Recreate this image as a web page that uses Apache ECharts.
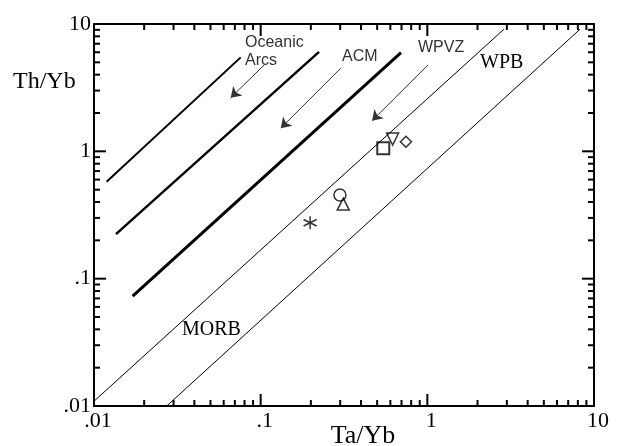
<!DOCTYPE html>
<html>
<head>
<meta charset="utf-8">
<script src="https://cdn.jsdelivr.net/npm/echarts@6/dist/echarts.min.js"></script>
<style>
  html, body { margin: 0; padding: 0; background: #fff; }
  #chart { width: 624px; height: 446px; }
</style>
</head>
<body>
<div id="chart"></div>
<script>
// Th/Yb vs Ta/Yb discrimination diagram (log-log)

const AX_MIN = 0.01;
const AX_MAX = 10;
const tickLabels = ['.01', '.1', '1', '10'];
const majorTickValues = [0.01, 0.1, 1, 10];
const minorTickValues = [
  0.02, 0.03, 0.04, 0.05, 0.06, 0.07, 0.08, 0.09,
  0.2, 0.3, 0.4, 0.5, 0.6, 0.7, 0.8, 0.9,
  2, 3, 4, 5, 6, 7, 8, 9
];

// Field boundary lines [Ta/Yb, Th/Yb]
const oceanicArcsLine = [[0.0119, 0.577], [0.0759, 5.47]];
const acmLine = [[0.01355, 0.224], [0.224, 6.03]];
const wpvzLine = [[0.01706, 0.073], [0.695, 5.96]];
const mantleArrayUpper = [[0.01, 0.0109], [2.88, 9.09]];
const mantleArrayLower = [[0.0273, 0.01], [8.24, 9.09]];

// Arrows showing the enrichment trends [start, end]
const oceanicArcsArrow = [[0.106, 4.82], [0.0661, 2.64]];
const acmArrow = [[0.302, 4.49], [0.132, 1.52]];
const wpvzArrow = [[1.01, 4.77], [0.466, 1.74]];

// Samples [Ta/Yb, Th/Yb]
const sampleSquare = [[0.544, 1.056]];
const sampleTriangleDown = [[0.619, 1.249]];
const sampleDiamond = [[0.744, 1.19]];
const sampleCircle = [[0.299, 0.454]];
const sampleTriangleUp = [[0.313, 0.385]];
const sampleAsterisk = [[0.198, 0.275]];

const SERIF = "'Liberation Serif', 'Times New Roman', serif";
const SANS = "'Liberation Sans', Arial, sans-serif";
const MAJOR_LEN = 12;
const MINOR_LEN = 6;
const TICK_W = 2;

const chart = echarts.init(document.getElementById('chart'), null, { renderer: 'canvas' });

function logLabel(v) {
  const e = Math.round(Math.log10(v));
  return tickLabels[e + 2];
}

function baseAxis(position, showLabel, labelOpts) {
  return {
    type: 'log',
    logBase: 10,
    min: AX_MIN,
    max: AX_MAX,
    position: position,
    axisLine: { show: true, onZero: false, lineStyle: { color: '#000', width: 2 } },
    axisTick: { show: false },
    minorTick: { show: false },
    splitLine: { show: false },
    axisLabel: Object.assign({
      show: showLabel,
      formatter: logLabel,
      color: '#000',
      fontFamily: SERIF,
      fontSize: 22
    }, labelOpts || {})
  };
}

function boundary(data, width) {
  return {
    type: 'line', data: data, showSymbol: false, symbol: 'none',
    lineStyle: { color: '#000', width: width }
  };
}

function sample(data, symbol, size, bw, rotate) {
  return {
    type: 'scatter', data: data, symbol: symbol, symbolSize: size,
    symbolRotate: rotate || 0,
    itemStyle: { color: 'rgba(255,255,255,0)', borderColor: '#000', borderWidth: bw }
  };
}

// Inward frame ticks drawn as thin bars anchored on the frame edges
function tickMarks(values, side, len) {
  const horizontal = side === 'left' || side === 'right';
  const data = values.map(function (v) {
    if (side === 'bottom') return [v, AX_MIN];
    if (side === 'top') return [v, AX_MAX];
    if (side === 'left') return [AX_MIN, v];
    return [AX_MAX, v];
  });
  const offset = {
    bottom: [0, -len / 2], top: [0, len / 2],
    left: [len / 2, 0], right: [-len / 2, 0]
  }[side];
  return {
    type: 'scatter', data: data, clip: false, silent: true,
    symbol: 'rect',
    symbolSize: horizontal ? [len, TICK_W] : [TICK_W, len],
    symbolOffset: offset,
    itemStyle: { color: '#000', borderWidth: 0, opacity: 1 },
    z: 10
  };
}

const asteriskPath = 'path://M50,0 L50,100 M6.7,25 L93.3,75 M6.7,75 L93.3,25';

function arrowPair(a) {
  return [{ coord: a[0], symbol: 'none' }, { coord: a[1], symbol: 'arrow' }];
}

function txt(text, x, y, font, align, color) {
  return {
    type: 'text', x: x, y: y, z: 100,
    style: { text: text, font: font, fill: color || '#000', align: align || 'left', verticalAlign: 'middle' }
  };
}

const wpbSeries = boundary(mantleArrayUpper, 1);
wpbSeries.markLine = {
  silent: true,
  animation: false,
  symbol: ['none', 'arrow'],
  symbolSize: 10,
  label: { show: false },
  lineStyle: { type: 'solid', color: '#333', width: 1 },
  emphasis: { disabled: true },
  data: [arrowPair(oceanicArcsArrow), arrowPair(acmArrow), arrowPair(wpvzArrow)]
};

chart.setOption({
  animation: false,
  grid: { left: 94, top: 24, width: 500, height: 382 },
  xAxis: [
    baseAxis('bottom', true, { margin: 4, padding: [0, 0, 0, 8] }),
    baseAxis('top', false)
  ],
  yAxis: [
    baseAxis('left', true, { margin: 3 }),
    baseAxis('right', false)
  ],
  series: [
    boundary(oceanicArcsLine, 2),
    boundary(acmLine, 2.4),
    boundary(wpvzLine, 3),
    wpbSeries,
    boundary(mantleArrayLower, 1),
    sample(sampleSquare, 'rect', 12, 2),
    sample(sampleTriangleDown, 'triangle', 12, 1.5, 180),
    sample(sampleDiamond, 'diamond', 11, 1.5),
    sample(sampleCircle, 'circle', 12, 1.5),
    sample(sampleTriangleUp, 'triangle', 12, 1.5),
    sample(sampleAsterisk, asteriskPath, 13, 1.5),
    tickMarks(majorTickValues, 'bottom', MAJOR_LEN),
    tickMarks(majorTickValues, 'top', MAJOR_LEN),
    tickMarks(majorTickValues, 'left', MAJOR_LEN),
    tickMarks(majorTickValues, 'right', MAJOR_LEN),
    tickMarks(minorTickValues, 'bottom', MINOR_LEN),
    tickMarks(minorTickValues, 'top', MINOR_LEN),
    tickMarks(minorTickValues, 'left', MINOR_LEN),
    tickMarks(minorTickValues, 'right', MINOR_LEN)
  ],
  graphic: [
    txt('Th/Yb', 13, 82, '24px ' + SERIF),
    txt('Ta/Yb', 363, 436, '26px ' + SERIF, 'center'),
    txt('Oceanic', 245, 43, '16px ' + SANS, 'left', '#333'),
    txt('Arcs', 245, 61, '16px ' + SANS, 'left', '#333'),
    txt('ACM', 342, 57, '16px ' + SANS, 'left', '#333'),
    txt('WPVZ', 418, 48, '16px ' + SANS, 'left', '#333'),
    txt('WPB', 480, 63, '20px ' + SERIF),
    txt('MORB', 182, 330, '20px ' + SERIF)
  ]
});
</script>
</body>
</html>
